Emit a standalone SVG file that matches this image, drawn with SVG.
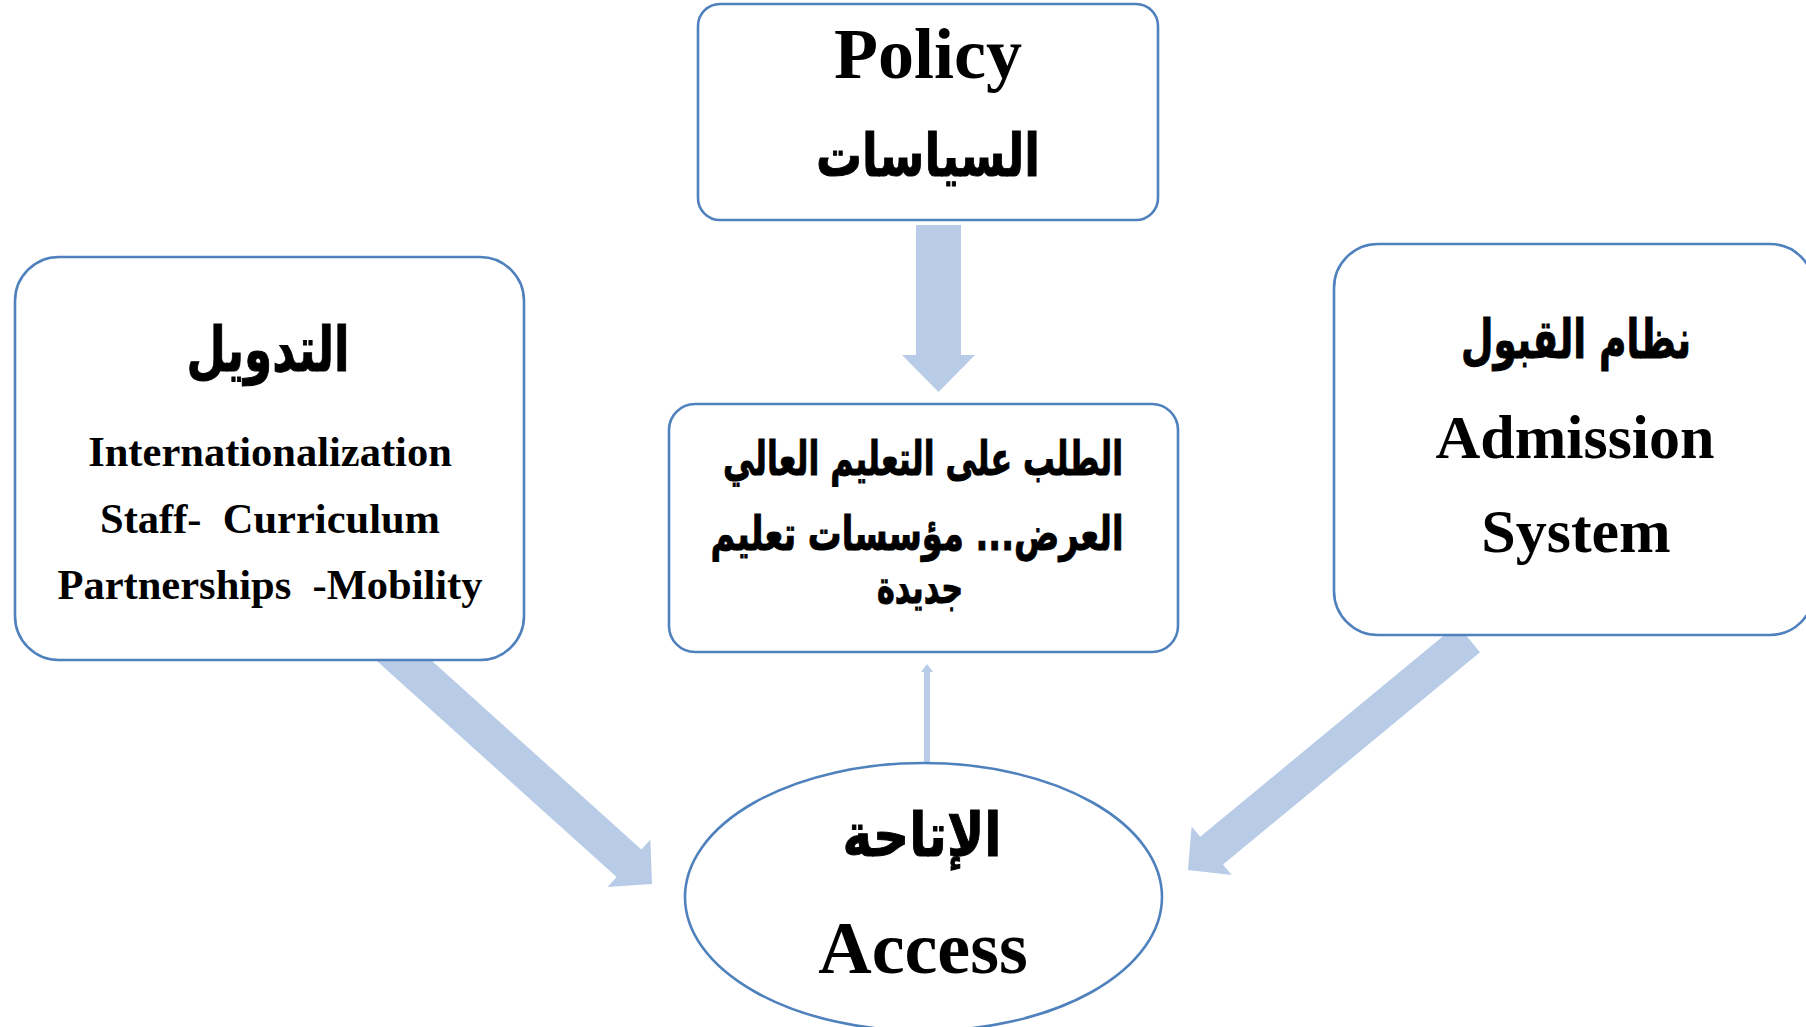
<svg xmlns="http://www.w3.org/2000/svg" width="1806" height="1027" viewBox="0 0 1806 1027">
<style>
.node{fill:#ffffff;stroke:#4F81BD;stroke-width:2.6}
.arr{fill:#B8CCE8;stroke:none}
.lat{font-family:"Liberation Serif","Times New Roman",serif;font-weight:bold;fill:#000;text-anchor:middle}
.ar{font-family:"DejaVu Sans","Liberation Sans",sans-serif;font-weight:bold;fill:#000;stroke:#000;stroke-width:1;text-anchor:middle}
</style>
<rect width="1806" height="1027" fill="#ffffff"/>
<g id="connectors">
<polygon class="arr" points="916,225 961,225 961,355 975,355 938.5,392 902,355 916,355"/>
<polygon class="arr" points="346.6,633.7 371.4,606.3 641.4,849.6 650.4,839.5 652,884 607.6,887.1 616.6,877"/>
<polygon class="arr" points="1480,652.3 1457.2,624.5 1200.2,836.8 1191.6,826.4 1188,870 1231.6,875 1223,864.6"/>
<polygon class="arr" points="924,765 924,672 921,672 927,664 933,672 930,672 930,765"/>
</g>
<g id="policy">
<rect class="node" x="698" y="4" width="460" height="216" rx="22"/>
<text class="lat" x="928" y="78" font-size="72">Policy</text>
<text class="ar" x="928" y="176" font-size="59" direction="rtl" textLength="224" lengthAdjust="spacingAndGlyphs">السياسات</text>
</g>
<g id="internationalization">
<rect class="node" x="15" y="257" width="509" height="403" rx="44"/>
<text class="ar" x="268" y="371" font-size="62" direction="rtl" textLength="163" lengthAdjust="spacingAndGlyphs">التدويل</text>
<text class="lat" x="270" y="466" font-size="42.5">Internationalization</text>
<text class="lat" x="270" y="533" font-size="42.5" style="white-space:pre">Staff-  Curriculum</text>
<text class="lat" x="270" y="599" font-size="42.5" style="white-space:pre">Partnerships  -Mobility</text>
</g>
<g id="admission">
<rect class="node" x="1334" y="244" width="480" height="391" rx="44"/>
<text class="ar" x="1576" y="358" font-size="54" direction="rtl" textLength="230" lengthAdjust="spacingAndGlyphs">نظام القبول</text>
<text class="lat" x="1575" y="458" font-size="62">Admission</text>
<text class="lat" x="1576" y="552" font-size="62">System</text>
</g>
<g id="demand">
<rect class="node" x="669" y="404" width="509" height="248" rx="26"/>
<text class="ar" x="923" y="475" font-size="47" direction="rtl" textLength="400" lengthAdjust="spacingAndGlyphs">الطلب على التعليم العالي</text>
<text class="ar" x="917" y="550" font-size="47" direction="rtl" textLength="413" lengthAdjust="spacingAndGlyphs">العرض... مؤسسات تعليم</text>
<text class="ar" x="920" y="603" font-size="45" direction="rtl" textLength="86" lengthAdjust="spacingAndGlyphs">جديدة</text>
</g>
<g id="access">
<ellipse class="node" cx="923.5" cy="897" rx="238.5" ry="134"/>
<text class="ar" x="922" y="856" font-size="60" direction="rtl" textLength="159" lengthAdjust="spacingAndGlyphs">الإتاحة</text>
<text class="lat" x="923" y="973" font-size="74">Access</text>
</g>
</svg>
